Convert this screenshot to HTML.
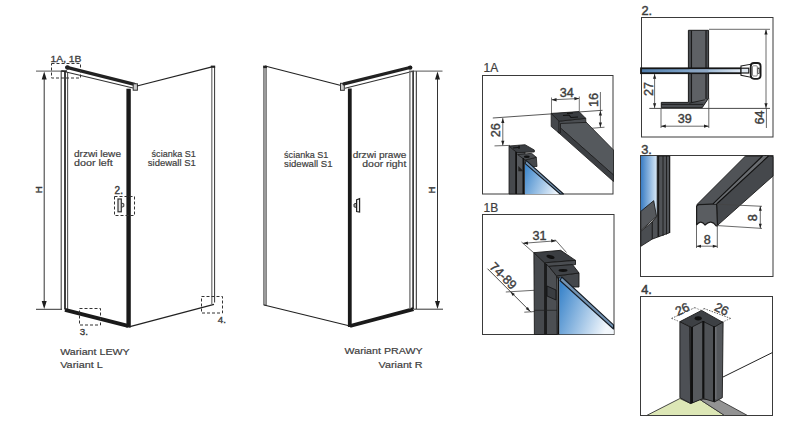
<!DOCTYPE html>
<html><head><meta charset="utf-8">
<style>
html,body{margin:0;padding:0;background:#fff;width:800px;height:421px;overflow:hidden}
svg{display:block;position:absolute;left:0;top:0}
text{font-family:"Liberation Sans",sans-serif;fill:#404040}
</style></head>
<body>
<svg width="800" height="421" viewBox="0 0 800 421">
<rect width="800" height="421" fill="#fff"/>
<defs>
  <linearGradient id="g1a" x1="525" y1="165" x2="562" y2="180" gradientUnits="userSpaceOnUse">
    <stop offset="0" stop-color="#3a84ca"/>
    <stop offset="1" stop-color="#eef5fc"/>
  </linearGradient>
  <linearGradient id="g1b" x1="559" y1="290" x2="613" y2="310" gradientUnits="userSpaceOnUse">
    <stop offset="0" stop-color="#3a84ca"/>
    <stop offset="1" stop-color="#f2f7fc"/>
  </linearGradient>
  <linearGradient id="g2" x1="641" y1="0" x2="748" y2="0" gradientUnits="userSpaceOnUse">
    <stop offset="0" stop-color="#4f7cab"/>
    <stop offset="0.5" stop-color="#86a9cc"/>
    <stop offset="1" stop-color="#eef3f9"/>
  </linearGradient>
  <linearGradient id="g3" x1="641" y1="0" x2="657" y2="0" gradientUnits="userSpaceOnUse">
    <stop offset="0" stop-color="#3a7dc4"/>
    <stop offset="1" stop-color="#d9e9f7"/>
  </linearGradient>
</defs>

<g fill="none">
  <line x1="36" y1="71.1" x2="67" y2="71.1" stroke="#555" stroke-width="1"/>
  <circle cx="67.5" cy="67.5" r="2.2" fill="#1a1a1a"/>
  <line x1="36" y1="309.3" x2="62" y2="309.3" stroke="#333" stroke-width="1"/>
  <line x1="44.2" y1="78" x2="44.2" y2="302" stroke="#333" stroke-width="1"/>
  <path d="M44.2 71.5 L41.7 79.5 L46.7 79.5 Z M44.2 309 L41.7 301 L46.7 301 Z" fill="#1e1e1e" stroke="none"/>
  <line x1="61.2" y1="71" x2="61.2" y2="309.5" stroke="#444" stroke-width="1.1"/>
  <line x1="65" y1="71" x2="65" y2="309.5" stroke="#1e1e1e" stroke-width="1.7"/>
  <line x1="67.6" y1="72" x2="67.6" y2="309.5" stroke="#555" stroke-width="1.1"/>
  <line x1="66.8" y1="67.4" x2="134.5" y2="84.3" stroke="#222" stroke-width="3.3" stroke-linecap="round"/>
  <line x1="62" y1="71" x2="133" y2="88" stroke="#333" stroke-width="1.1"/>
  <line x1="61" y1="71" x2="67" y2="71" stroke="#222" stroke-width="1.2"/>
  <rect x="133.2" y="83.8" width="4.2" height="6.4" fill="#ccc" stroke="#333" stroke-width="1"/>
  <line x1="128.6" y1="88.7" x2="128.6" y2="327.5" stroke="#1a1a1a" stroke-width="4.4"/>
  <line x1="65" y1="309.8" x2="128" y2="325.8" stroke="#1a1a1a" stroke-width="3.8"/>
  <line x1="137" y1="86" x2="212" y2="66.8" stroke="#222" stroke-width="1.2"/>
  <line x1="211.8" y1="67" x2="211.8" y2="304" stroke="#777" stroke-width="1.3"/>
  <line x1="214.6" y1="67" x2="214.6" y2="302.5" stroke="#333" stroke-width="1"/>
  <rect x="210.8" y="65.6" width="4.4" height="2.2" fill="#222" stroke="none"/>
  <line x1="129" y1="326.8" x2="214" y2="304.3" stroke="#222" stroke-width="1.2"/>
  <g stroke="#333" stroke-width="1" stroke-dasharray="3,2">
    <rect x="51.5" y="63.5" width="29" height="14.5"/>
    <rect x="114.5" y="196.5" width="20" height="19"/>
    <rect x="79.5" y="308.5" width="21" height="16.5"/>
    <rect x="201.5" y="296.5" width="21" height="16.5"/>
  </g>
  <path d="M121.3 203 L123.8 203.8 L123.8 206.5 L121.3 207.3" fill="#ddd" stroke="#333" stroke-width="1"/>
  <rect x="118" y="199" width="3.3" height="12.8" fill="#e6e6e6" stroke="#333" stroke-width="1.2"/>
</g>
<text x="50.5" y="61.8" font-size="9.8" stroke="#3c3c3c" stroke-width="0.3" textLength="31" lengthAdjust="spacingAndGlyphs">1A, 1B</text>
<text x="114.6" y="193.8" font-size="10" stroke="#3c3c3c" stroke-width="0.4">2.</text>
<text x="79.8" y="334.5" font-size="9.8" stroke="#3c3c3c" stroke-width="0.35">3.</text>
<text x="217.8" y="323" font-size="9.8" stroke="#3c3c3c" stroke-width="0.35">4.</text>
<text x="74" y="157.4" font-size="9.9" stroke="#3c3c3c" stroke-width="0.2" textLength="47" lengthAdjust="spacingAndGlyphs">drzwi lewe</text>
<text x="74" y="166.4" font-size="9.9" stroke="#3c3c3c" stroke-width="0.2" textLength="38.8" lengthAdjust="spacingAndGlyphs">door left</text>
<text x="195.8" y="157.4" font-size="9.9" stroke="#3c3c3c" stroke-width="0.2" text-anchor="end" textLength="44.2" lengthAdjust="spacingAndGlyphs">ścianka S1</text>
<text x="195.8" y="166.4" font-size="9.9" stroke="#3c3c3c" stroke-width="0.2" text-anchor="end" textLength="48" lengthAdjust="spacingAndGlyphs">sidewall S1</text>
<text x="41.6" y="189.7" font-size="9.3" stroke="#3c3c3c" stroke-width="0.45" text-anchor="middle" transform="rotate(-90 41.6 189.7)">H</text>
<text x="60.2" y="354.6" font-size="9.9" stroke="#3c3c3c" stroke-width="0.2" textLength="69.5" lengthAdjust="spacingAndGlyphs">Wariant LEWY</text>
<text x="60.2" y="367.5" font-size="9.9" stroke="#3c3c3c" stroke-width="0.2" textLength="42.6" lengthAdjust="spacingAndGlyphs">Variant L</text>
<g fill="none">
  <rect x="263.3" y="66" width="3.4" height="239" fill="#9a9a9a" stroke="#666" stroke-width="0.6"/>
  <line x1="265" y1="66" x2="341" y2="85.5" stroke="#222" stroke-width="1.2"/>
  <rect x="263.3" y="65.8" width="3.6" height="2.3" fill="#222" stroke="none"/>
  <rect x="340.5" y="83.3" width="3.8" height="7" fill="#ccc" stroke="#333" stroke-width="1"/>
  <line x1="344" y1="83.8" x2="410" y2="67.5" stroke="#222" stroke-width="3.3" stroke-linecap="round"/>
  <line x1="345" y1="88.3" x2="414" y2="71" stroke="#333" stroke-width="1.1"/>
  <line x1="349.8" y1="88.5" x2="349.8" y2="327" stroke="#1a1a1a" stroke-width="3.8"/>
  <line x1="264" y1="305" x2="350" y2="326" stroke="#222" stroke-width="1.2"/>
  <line x1="350" y1="326" x2="413.5" y2="309.2" stroke="#1a1a1a" stroke-width="3.8"/>
  <line x1="409.9" y1="71" x2="409.9" y2="309" stroke="#777" stroke-width="1.4"/>
  <line x1="413.1" y1="71" x2="413.1" y2="309" stroke="#1a1a1a" stroke-width="1.5"/>
  <line x1="416.3" y1="71" x2="416.3" y2="309" stroke="#222" stroke-width="1"/>
  <line x1="409" y1="71.1" x2="442.5" y2="71.1" stroke="#555" stroke-width="1"/>
  <circle cx="410.2" cy="67.6" r="2.2" fill="#1a1a1a"/>
  <line x1="414" y1="309.2" x2="443" y2="309.2" stroke="#333" stroke-width="1"/>
  <line x1="437.5" y1="78" x2="437.5" y2="302" stroke="#333" stroke-width="1"/>
  <path d="M437.5 71.5 L435 79.5 L440 79.5 Z M437.5 309 L435 301 L440 301 Z" fill="#1e1e1e" stroke="none"/>
  <path d="M356.4 203.2 L354 204 L354 206.8 L356.4 207.5" fill="#aaa" stroke="#333" stroke-width="1"/>
  <path d="M356.6 199.8 L359.6 198.6 L359.6 212 L356.6 211.5 Z" fill="#eee" stroke="#222" stroke-width="1.2"/>
</g>
<text x="284.1" y="157.5" font-size="9.9" stroke="#3c3c3c" stroke-width="0.2" textLength="44.2" lengthAdjust="spacingAndGlyphs">ścianka S1</text>
<text x="284.1" y="166.6" font-size="9.9" stroke="#3c3c3c" stroke-width="0.2" textLength="48.4" lengthAdjust="spacingAndGlyphs">sidewall S1</text>
<text x="406.3" y="157.5" font-size="9.9" stroke="#3c3c3c" stroke-width="0.2" text-anchor="end" textLength="53.6" lengthAdjust="spacingAndGlyphs">drzwi prawe</text>
<text x="406.3" y="166.6" font-size="9.9" stroke="#3c3c3c" stroke-width="0.2" text-anchor="end" textLength="44" lengthAdjust="spacingAndGlyphs">door right</text>
<text x="435.5" y="189.8" font-size="9.3" stroke="#3c3c3c" stroke-width="0.45" text-anchor="middle" transform="rotate(-90 435.5 189.8)">H</text>
<text x="422.6" y="354.4" font-size="9.9" stroke="#3c3c3c" stroke-width="0.2" text-anchor="end" textLength="78" lengthAdjust="spacingAndGlyphs">Wariant PRAWY</text>
<text x="422.6" y="367.5" font-size="9.9" stroke="#3c3c3c" stroke-width="0.2" text-anchor="end" textLength="44" lengthAdjust="spacingAndGlyphs">Variant R</text>
<g fill="none" stroke="#3a3a3a" stroke-width="1">
  <rect x="482.5" y="75.5" width="130.5" height="118.5"/>
  <rect x="482.5" y="214.5" width="131.5" height="120"/>
  <rect x="641.5" y="17.5" width="131.5" height="119.5"/>
  <rect x="640.5" y="155.5" width="132.5" height="121"/>
  <rect x="640.5" y="296.5" width="132" height="119"/>
</g>
<text x="483.5" y="71.8" font-size="12" stroke="#3c3c3c" stroke-width="0.2">1A</text>
<text x="483.5" y="212.2" font-size="12" stroke="#3c3c3c" stroke-width="0.2">1B</text>
<text x="641.5" y="15.1" font-size="12.8" stroke="#3c3c3c" stroke-width="0.45">2.</text>
<text x="641.2" y="153.5" font-size="12.8" stroke="#3c3c3c" stroke-width="0.45">3.</text>
<text x="641.2" y="293.5" font-size="12.8" stroke="#3c3c3c" stroke-width="0.5">4.</text>
<g id="p1a">
  <line x1="492.8" y1="118" x2="602.5" y2="110.3" stroke="#444" stroke-width="0.9"/>
  <line x1="551.5" y1="97.5" x2="551.5" y2="113" stroke="#555" stroke-width="0.8"/>
  <line x1="579.3" y1="96.5" x2="579.3" y2="111.5" stroke="#555" stroke-width="0.8"/>
  <line x1="552" y1="99.8" x2="579" y2="98.5" stroke="#444" stroke-width="0.8"/>
  <path d="M551.6 99.8 L556.5 98 L556.6 101.4 Z M579.2 98.5 L574.3 96.9 L574.5 100.3 Z" fill="#222"/>
  <line x1="600.4" y1="92" x2="600.4" y2="127.5" stroke="#444" stroke-width="0.8"/>
  <path d="M600.4 110.8 L598.8 115.5 L602 115.5 Z M600.4 127.3 L598.8 122.6 L602 122.6 Z" fill="#222"/>
  <line x1="591.5" y1="128.3" x2="604.5" y2="127.2" stroke="#444" stroke-width="0.8"/>
  <line x1="502.8" y1="118" x2="502.8" y2="145.5" stroke="#444" stroke-width="0.8"/>
  <path d="M502.8 118.2 L501.2 123 L504.4 123 Z M502.8 145.5 L501.2 140.7 L504.4 140.7 Z" fill="#222"/>
  <line x1="494.5" y1="145.9" x2="510" y2="145.4" stroke="#444" stroke-width="0.8"/>
  <g stroke="#1a1a1a" stroke-width="0.8" stroke-linejoin="round">
    <polygon points="560.5,122.5 586,122 613.5,150 613.5,175 560.5,128" fill="#55595d"/>
    <polygon points="560.5,128 613.5,175 613.5,181.5 557.5,131.8" fill="#3c3f43"/>
    <polygon points="551.2,113.4 559.1,121.2 559.1,133.1 551.2,126.5" fill="#45484c"/>
    <polygon points="559.1,121.2 585.7,118.3 585.9,122.4 560.5,123.5 560.5,133 559.1,133.1" fill="#4a4d51"/>
    <polygon points="551.2,113.4 579,111.6 585.7,118.3 559.1,121.2" fill="#3a3d41"/>
  </g>
  <path d="M563 115.5 L569 115 L571 117.5 L578 117 M567 113.5 L573 113" stroke="#111" stroke-width="1.2" fill="none"/>
  <g stroke="#1a1a1a" stroke-width="0.8" stroke-linejoin="round">
    <polygon points="509,146 515.6,151.5 515.6,194 509,194" fill="#46494d"/>
    <polygon points="515.6,151.5 525,152 525,194 515.6,194" fill="#55585c"/>
    <polygon points="525,160 536.3,157.3 537,166.5 532,166.5" fill="#44474b"/>
    <polygon points="509,146 525,144.7 534.3,150 534.3,152 517,152.6" fill="#3b3e42"/>
    <polygon points="517.6,154.6 531.6,153.3 536.3,157.3 525,160" fill="#4a4d51"/>
  </g>
  <ellipse cx="526.8" cy="156.7" rx="3" ry="1.3" fill="#111"/>
  <path d="M513 148 L520 147.2 M519 145.5 L519 149" stroke="#111" stroke-width="1.1"/>
  <line x1="516.3" y1="152" x2="516.3" y2="194" stroke="#111" stroke-width="1.4"/>
  <line x1="523.3" y1="158" x2="523.3" y2="194" stroke="#111" stroke-width="1.6"/>
  <path d="M518.3 166 L523.6 171.3 L518.3 171.3 Z" fill="#222"/>
  <polygon points="525,162.5 526.5,161.5 562,194 525,194" fill="url(#g1a)"/>
  <polygon points="526.3,160.6 563.5,194 560.2,194 525,163.3" fill="#7393b3" stroke="#151c24" stroke-width="1.1" stroke-linejoin="round"/>
</g>
<text x="566.8" y="96.9" font-size="12.6" stroke="#3c3c3c" stroke-width="0.4" text-anchor="middle">34</text>
<text x="598.4" y="100" font-size="12.6" stroke="#3c3c3c" stroke-width="0.4" text-anchor="middle" transform="rotate(-90 598.4 100)">16</text>
<text x="500.3" y="130.3" font-size="12.6" stroke="#3c3c3c" stroke-width="0.4" text-anchor="middle" transform="rotate(-90 500.3 130.3)">26</text>
<g id="p1b">
  <line x1="521.5" y1="242" x2="534" y2="253" stroke="#444" stroke-width="0.8"/>
  <line x1="555" y1="239.5" x2="566.5" y2="252.5" stroke="#444" stroke-width="0.8"/>
  <line x1="523" y1="243.3" x2="556" y2="240.8" stroke="#444" stroke-width="0.8"/>
  <path d="M522.8 243.3 L527.8 241.4 L528.1 244.8 Z M556.2 240.8 L551 239.2 L551.3 242.6 Z" fill="#222"/>
  <line x1="487.5" y1="268.7" x2="531" y2="312.2" stroke="#333" stroke-width="0.9"/>
  <path d="M510.3 291.5 L514.9 293.9 L512.7 296.1 Z M530.3 311.5 L525.7 309.1 L527.9 306.9 Z" fill="#222"/>
  <line x1="505.8" y1="292" x2="534" y2="290.3" stroke="#444" stroke-width="0.8"/>
  <line x1="524.3" y1="312.2" x2="557" y2="310.2" stroke="#444" stroke-width="0.8"/>
  <g stroke="#1a1a1a" stroke-width="0.9" stroke-linejoin="round">
    <polygon points="533.9,252.7 544.6,262.8 544.6,334.5 534.4,334.5" fill="#46494d"/>
    <polygon points="544.6,262.8 548.8,266.4 556.5,275.9 557.2,334.5 544.6,334.5" fill="#4c4f53"/>
    <polygon points="556.5,275.9 579,273 579,287 573,287 562.3,277.6 557.2,278" fill="#44474b"/>
    <polygon points="533.9,252.7 560.7,250.3 575.5,260.4 544.6,262.8" fill="#3b3e42"/>
    <polygon points="544.6,262.8 575.5,260.4 575.5,264.6 548.8,266.4" fill="#4a4d51"/>
    <polygon points="548.8,266.4 572.5,264.6 579,273 556.5,275.9" fill="#404347"/>
  </g>
  <line x1="546" y1="264" x2="546" y2="334" stroke="#111" stroke-width="1.6"/>
  <line x1="534" y1="310.3" x2="557" y2="310.3" stroke="#222" stroke-width="0.8"/>
  <path d="M547 286 L556 290 L556 300 L547 296 Z" fill="#3a3d41" stroke="#111" stroke-width="0.8"/>
  <ellipse cx="550.5" cy="256.9" rx="4.2" ry="1.8" fill="#111" transform="rotate(15 550.5 256.9)"/>
  <ellipse cx="563" cy="270.5" rx="4.5" ry="1.4" fill="#111"/>
  <polygon points="559.4,278 562,277 613.7,326 613.7,334.3 559.4,334.3" fill="url(#g1b)"/>
  <polygon points="561.8,277 613.5,324.9 613.5,329 560,280.5" fill="#7393b3" stroke="#151c24" stroke-width="1.1" stroke-linejoin="round"/>
  <line x1="558.3" y1="277.6" x2="558.3" y2="334.3" stroke="#111" stroke-width="2"/>
</g>
<text x="539.5" y="235.8" font-size="12.6" stroke="#3c3c3c" stroke-width="0.4" text-anchor="middle" dominant-baseline="central">31</text>
<text x="503" y="276" font-size="12.6" stroke="#3c3c3c" stroke-width="0.4" text-anchor="middle" dominant-baseline="central" transform="rotate(45 503 276)">74-89</text>
<g id="p2">
  <line x1="709" y1="29.3" x2="770" y2="29.3" stroke="#444" stroke-width="0.8"/>
  <line x1="766" y1="30" x2="766" y2="108" stroke="#444" stroke-width="0.8"/>
  <path d="M766 29.6 L764.4 34.4 L767.6 34.4 Z M766 108 L764.4 103.2 L767.6 103.2 Z" fill="#222"/>
  <line x1="649.3" y1="108.4" x2="770" y2="108.4" stroke="#333" stroke-width="0.9"/>
  <line x1="766.4" y1="108" x2="766.4" y2="128" stroke="#444" stroke-width="0.8"/>
  <line x1="654.6" y1="74" x2="654.6" y2="108" stroke="#444" stroke-width="0.8"/>
  <path d="M654.6 74 L653 78.8 L656.2 78.8 Z M654.6 108 L653 103.2 L656.2 103.2 Z" fill="#222"/>
  <line x1="661" y1="108" x2="661" y2="128" stroke="#444" stroke-width="0.8"/>
  <line x1="708.8" y1="98" x2="708.8" y2="128" stroke="#444" stroke-width="0.8"/>
  <line x1="661" y1="126.2" x2="708.8" y2="126.2" stroke="#444" stroke-width="0.8"/>
  <path d="M661 126.2 L665.8 124.6 L665.8 127.8 Z M708.8 126.2 L704 124.6 L704 127.8 Z" fill="#222"/>
  <g stroke="#1a1a1a" stroke-width="1" stroke-linejoin="round">
    <polygon points="688.4,30.3 708.6,30.3 708.6,98 702.2,107.7 661.3,107.7 661.3,102.4 688.4,102.4" fill="#4a4d51"/>
  </g>
  <rect x="692" y="31" width="13.5" height="70.5" fill="#5e6165"/>
  <polygon points="692,101.5 705.5,98.5 705.5,101.5" fill="#5e6165"/>
  <line x1="691.5" y1="30.5" x2="691.5" y2="102.5" stroke="#1a1a1a" stroke-width="1.1"/>
  <line x1="706" y1="30.5" x2="706" y2="99" stroke="#1a1a1a" stroke-width="1.1"/>
  <line x1="689.2" y1="103.2" x2="704.9" y2="99.8" stroke="#1a1a1a" stroke-width="0.9"/>
  <line x1="661.5" y1="104.4" x2="703" y2="104.4" stroke="#1a1a1a" stroke-width="0.9"/>
  <rect x="641" y="68.3" width="107.8" height="4.9" fill="url(#g2)" stroke="#151515" stroke-width="1.8"/>
  <rect x="689.5" y="69.2" width="19" height="3.2" fill="#8aa3bd" opacity="0.7"/>
  <path d="M741 66 L750.5 64.3 L750.5 77.2 L741 75.4 Z" fill="#fff" stroke="#1a1a1a" stroke-width="1.1"/>
  <rect x="741" y="68.2" width="7.8" height="4.8" fill="#dfe8f1" stroke="#1a1a1a" stroke-width="1.2"/>
  <rect x="750.8" y="63" width="9.8" height="15.8" rx="3.2" fill="#fff" stroke="#1a1a1a" stroke-width="1.8"/>
  <rect x="752.5" y="65.8" width="4.8" height="10.2" rx="1" fill="#fff" stroke="#555" stroke-width="0.7"/>
  <rect x="757.8" y="68" width="1.8" height="5.5" fill="#ddd" stroke="#333" stroke-width="0.7"/>
</g>
<text x="648.6" y="89" font-size="12.6" stroke="#3c3c3c" stroke-width="0.4" text-anchor="middle" dominant-baseline="central" transform="rotate(-90 648.6 89)">27</text>
<text x="684.7" y="118.8" font-size="12.6" stroke="#3c3c3c" stroke-width="0.4" text-anchor="middle" dominant-baseline="central">39</text>
<text x="759.8" y="117.5" font-size="12.6" stroke="#3c3c3c" stroke-width="0.4" text-anchor="middle" dominant-baseline="central" transform="rotate(-90 759.8 117.5)">64</text>
<g id="p3">
  <polygon points="641,156 657.2,156 657.2,216 640.8,211.4" fill="url(#g3)"/>
  <g stroke="#1a1a1a" stroke-width="0.9" stroke-linejoin="round">
    <polygon points="657.2,156 669.6,156 669.6,232.7 652.2,239.1 652.2,222 657.2,216" fill="#505357"/>
    <polygon points="640.8,211.4 653.7,200.7 656.5,216.4 640.8,230.6" fill="#56595d"/>
    <polygon points="640.8,231.3 652.2,222 652.2,239.1 640.8,246.3" fill="#4a4d51"/>
  </g>
  <line x1="658.3" y1="156" x2="658.3" y2="237" stroke="#1a1a1a" stroke-width="1.6"/>
  <line x1="663" y1="156" x2="663" y2="236" stroke="#1a1a1a" stroke-width="0.9"/>
  <line x1="666.5" y1="156" x2="666.5" y2="234.5" stroke="#1a1a1a" stroke-width="0.9"/>
  <line x1="669.6" y1="156" x2="669.6" y2="233" stroke="#1a1a1a" stroke-width="1.2"/>
  <g stroke="#1a1a1a" stroke-width="0.9" stroke-linejoin="round">
    <polygon points="716.6,204 717.6,225.3 773,176 773,156.5 765,156" fill="#45484c"/>
    <polygon points="696.7,204.8 745.5,156 766,156 716.6,204" fill="#505357"/>
    <path d="M696.6,206 L698.5,204.7 L716.6,204 L717.5,225.8 L716.2,225.8 Q711.3,218.8 705,225 Q700.8,219.2 696.6,224.8 Z" fill="#5a5d61" stroke-width="1.2"/>
  </g>
  <polygon points="713,203.8 716.6,204 768.5,156 762.5,156" fill="#6a6d71"/>
  <line x1="713" y1="203.8" x2="762.5" y2="156" stroke="#111" stroke-width="1.1"/>
  <line x1="716.6" y1="204" x2="768.5" y2="156" stroke="#111" stroke-width="1.1"/>
  <line x1="696.5" y1="225" x2="696.5" y2="248" stroke="#444" stroke-width="0.8"/>
  <line x1="717.3" y1="225" x2="717.3" y2="248" stroke="#444" stroke-width="0.8"/>
  <line x1="696.5" y1="246.2" x2="717.3" y2="246.2" stroke="#444" stroke-width="0.8"/>
  <path d="M696.5 246.2 L701 244.7 L701 247.7 Z M717.3 246.2 L712.8 244.7 L712.8 247.7 Z" fill="#222"/>
  <line x1="717" y1="204.2" x2="762" y2="206.3" stroke="#444" stroke-width="0.8"/>
  <line x1="717.6" y1="225.6" x2="762" y2="228.4" stroke="#444" stroke-width="0.8"/>
  <line x1="760.3" y1="206" x2="760.3" y2="228.5" stroke="#444" stroke-width="0.8"/>
  <path d="M760.3 206.2 L758.8 210.7 L761.8 210.7 Z M760.3 228.2 L758.8 223.7 L761.8 223.7 Z" fill="#222"/>
</g>
<text x="707.3" y="239.6" font-size="12.6" stroke="#3c3c3c" stroke-width="0.4" text-anchor="middle" dominant-baseline="central">8</text>
<text x="752.7" y="217.7" font-size="12.6" stroke="#3c3c3c" stroke-width="0.4" text-anchor="middle" dominant-baseline="central" transform="rotate(-90 752.7 217.7)">8</text>
<g id="p4">
  <line x1="723" y1="377" x2="772.5" y2="352.5" stroke="#222" stroke-width="1"/>
  <polygon points="646.6,415.5 679.9,398.5 690.7,403.5 699.8,399.4 724.8,415.5" fill="#dde7b6" stroke="#333" stroke-width="0.9"/>
  <polygon points="699.8,399.4 718,399.4 747.5,415.5 724.5,415.5" fill="#939393" stroke="#333" stroke-width="0.9"/>
  <g stroke="#1a1a1a" stroke-width="0.9" stroke-linejoin="round">
    <polygon points="679.9,321.8 689.9,326.8 690.7,403.5 679.9,397.7" fill="#4d5055"/>
    <polygon points="689.9,326.8 703.2,320.5 703.2,398.5 690.7,403.5" fill="#56595d"/>
    <polygon points="703.2,320.5 714.5,325.5 714.5,401.9 703.2,398.5" fill="#4f5256"/>
    <polygon points="714.5,325.5 723.1,321.8 722.3,397.7 714.5,401.9" fill="#55585c"/>
    <polygon points="680,321.6 701.6,310.4 722.6,322.2 714.4,327 703,321.4 691.5,327.3" fill="#3d4044"/>
  </g>
  <line x1="691.8" y1="327" x2="691.8" y2="403" stroke="#111" stroke-width="2.4"/>
  <line x1="703.4" y1="321" x2="703.4" y2="398.5" stroke="#111" stroke-width="2"/>
  <line x1="714" y1="326" x2="714" y2="401.5" stroke="#111" stroke-width="2"/>
  <line x1="715.9" y1="327" x2="715.9" y2="399" stroke="#8a8d91" stroke-width="0.7"/>
  <ellipse cx="698.2" cy="318.3" rx="3.6" ry="2.1" fill="#111"/>
  <g stroke="#333" stroke-width="0.8" stroke-dasharray="1.5,1.2">
    <line x1="671.6" y1="318.4" x2="694.9" y2="307.6"/>
    <line x1="704" y1="308.5" x2="730.6" y2="318.4"/>
  </g>
  <line x1="671.6" y1="318.4" x2="679.9" y2="321.8" stroke="#333" stroke-width="0.6" stroke-dasharray="1.5,1.2"/>
  <line x1="694.9" y1="307.6" x2="701.5" y2="310.6" stroke="#333" stroke-width="0.6" stroke-dasharray="1.5,1.2"/>
  <line x1="704" y1="308.5" x2="701.5" y2="310.6" stroke="#333" stroke-width="0.6" stroke-dasharray="1.5,1.2"/>
  <line x1="730.6" y1="318.4" x2="723.1" y2="321.8" stroke="#333" stroke-width="0.6" stroke-dasharray="1.5,1.2"/>
</g>
<text x="682.4" y="309.3" font-size="12.6" stroke="#3c3c3c" stroke-width="0.4" text-anchor="middle" dominant-baseline="central" transform="rotate(-25 682.4 309.3)">26</text>
<text x="721.5" y="309.3" font-size="12.6" stroke="#3c3c3c" stroke-width="0.4" text-anchor="middle" dominant-baseline="central" transform="rotate(25 721.5 309.3)">26</text>
</svg>
</body></html>
